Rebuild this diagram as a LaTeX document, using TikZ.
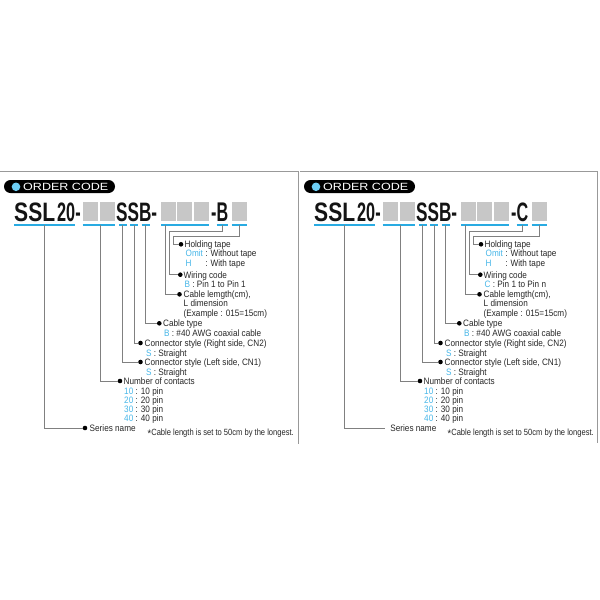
\documentclass[tikz,border=0pt]{standalone}
\usepackage{fontspec}
\setmainfont{Liberation Sans}
\usepackage{graphicx}

\definecolor{codeblue}{RGB}{41,171,226}
\definecolor{txtblue}{RGB}{70,182,232}
\definecolor{dotblue}{RGB}{109,207,246}

%% narrow text and stretched code letters
\newcommand{\cnd}[1]{\scalebox{0.88}[1]{#1}}
\newcommand{\bigcd}[2]{\resizebox{#1}{18.6pt}{#2}}
\newcommand{\hc}[1]{\textcolor{txtblue}{#1}}
\newcommand{\notestar}{{\fontsize{11}{11}\selectfont\raisebox{-2.6pt}{*}}}

\begin{document}
\begin{tikzpicture}[
    x=1pt, y=-1pt,
    lbl/.style={anchor=base west, inner sep=0pt, text=black!85,
        font=\fontsize{9.3}{9.3}\selectfont},
    note/.style={anchor=base west, inner sep=0pt, text=black!85,
        font=\fontsize{9}{9}\selectfont},
    %% black bullet in front of each item
    dot/.style={circle, fill=black, inner sep=0pt, minimum size=4.6pt},
    %% grey leader lines
    lead/.style={draw=black!50, line width=0.8pt},
    %% blue bar under each code part
    uline/.style={draw=codeblue, line width=2.6pt},
    slot/.style={fill=black!22},
    frame/.style={draw=black!40, line width=1pt},
    bigcode/.style={anchor=base west, inner sep=0pt, text=black!92,
        font=\bfseries},
    pill/.style={fill=black, rounded corners=6.5pt, inner sep=0pt,
        minimum width=111pt, minimum height=13pt},
    bluedot/.style={circle, fill=dotblue, inner sep=0pt, minimum size=8.6pt},
    pilltxt/.style={anchor=base west, inner sep=0pt, text=white}
]
\useasboundingbox (0,0) rectangle (600,600);

%% ================================================================
%% LEFT PANEL -- wiring code B
%% ================================================================
\begin{scope}[xshift=0pt]
    \draw[frame] (0,171.5) -- (298.5,171.5) -- (298.5,444);

    %% heading
    \node[pill] (ahd) at (59.5,186.5) {};
    \node[bluedot] (adot) at (16,186.8) {};
    \node[pilltxt] (atit) at (23,190.4) {\resizebox{85pt}{7.3pt}{ORDER CODE}};

    %% part number
    \node[bigcode] (as1) at (14,221.5)  {\bigcd{41pt}{SSL}};
    \node[bigcode] (as2) at (57,221.5)  {\bigcd{23.5pt}{20-}};
    \node[bigcode] (as3) at (116,221.5) {\bigcd{41pt}{SSB-}};
    \node[bigcode] (as4) at (211,221.5) {\bigcd{17pt}{-B}};
    \foreach \x in {82.7,99.8,161,177.2,193.8,231.8}
        \fill[slot] (\x,202.3) rectangle ++(15,19);
    \foreach \s/\e in {14/75, 82.7/115, 119.3/126.7, 130/138, 141.7/150,
                       161/209, 216.7/227.7, 231.7/246.7}
        \draw[uline] (\s,225) -- (\e,225);

    %% leader start points
    \coordinate (a1) at (44.3,225);
    \coordinate (a2) at (100,225);
    \coordinate (a3) at (122.3,225);
    \coordinate (a4) at (134,225);
    \coordinate (a5) at (145.7,225);
    \coordinate (a6) at (165.7,225);
    \coordinate (a7) at (222,225);
    \coordinate (a8) at (239.3,225);
    \coordinate (ak7) at (169.5,231.7);
    \coordinate (ak8) at (173.3,236);

    %% bullets
    \node[dot] (p1) at (85,428) {};
    \node[dot] (p2) at (120,381) {};
    \node[dot] (p3) at (140.5,362) {};
    \node[dot] (p4) at (140.5,343) {};
    \node[dot] (p5) at (159.3,323.3) {};
    \node[dot] (p6) at (179.5,294.3) {};
    \node[dot] (p7) at (180.3,274.7) {};
    \node[dot] (p8) at (181,244.3) {};

    \draw[lead] (a1) |- (p1);
    \draw[lead] (a2) |- (p2);
    \draw[lead] (a3) |- (p3);
    \draw[lead] (a4) |- (p4);
    \draw[lead] (a5) |- (p5);
    \draw[lead] (a6) |- (p6);
    \draw[lead] (a7) |- (ak7) |- (p7);
    \draw[lead] (a8) |- (ak8) |- (p8);

    %% item texts
    \node[lbl] (at8a) at (184.5,247.6) {\cnd{Holding tape}};
    \node[lbl] (at8b) at (185.5,256.9) {\cnd{\hc{Omit} : Without tape}};
    \node[lbl] (at8c) at (185.5,266.2) {\cnd{\rlap{\hc{H}}\phantom{Omit} : With tape}};
    \node[lbl] (at7a) at (183.5,278)   {\cnd{Wiring code}};
    \node[lbl] (at7b) at (184.5,287.3) {\cnd{\hc{B} : Pin 1 to Pin 1}};
    \node[lbl] (at6a) at (183.5,297.6) {\cnd{Cable lemgth(cm),}};
    \node[lbl] (at6b) at (183.5,306.9) {\cnd{L dimension}};
    \node[lbl] (at6c) at (183.5,316.2) {\cnd{(Example : 015=15cm)}};
    \node[lbl] (at5a) at (163,326.6)   {\cnd{Cable type}};
    \node[lbl] (at5b) at (164,336.3)   {\cnd{\hc{B} : \#40 AWG coaxial cable}};
    \node[lbl] (at4a) at (144.5,346.3) {\cnd{Connector style (Right side, CN2)}};
    \node[lbl] (at4b) at (146,356)     {\cnd{\hc{S} : Straight}};
    \node[lbl] (at3a) at (144.5,365.3) {\cnd{Connector style (Left side, CN1)}};
    \node[lbl] (at3b) at (146,375)     {\cnd{\hc{S} : Straight}};
    \node[lbl] (at2a) at (123.5,384.3) {\cnd{Number of contacts}};
    \node[lbl] (at2b) at (124,394)     {\cnd{\hc{10} : 10 pin}};
    \node[lbl] (at2c) at (124,403.3)   {\cnd{\hc{20} : 20 pin}};
    \node[lbl] (at2d) at (124,412.6)   {\cnd{\hc{30} : 30 pin}};
    \node[lbl] (at2e) at (124,421.9)   {\cnd{\hc{40} : 40 pin}};
    \node[lbl] (at1)  at (89.5,431.3)  {\cnd{Series name}};
    \node[note] (anote) at (147.5,435)
        {\scalebox{0.84}[1]{\notestar Cable length is set to 50cm by the longest.}};
\end{scope}

%% ================================================================
%% RIGHT PANEL -- wiring code C
%% ================================================================
\begin{scope}[xshift=300pt]
    \draw[frame] (0,171.5) -- (297.5,171.5) -- (297.5,443);

    %% heading
    \node[pill] (bhd) at (59.5,186.5) {};
    \node[bluedot] (bdot) at (16,186.8) {};
    \node[pilltxt] (btit) at (23,190.4) {\resizebox{85pt}{7.3pt}{ORDER CODE}};

    %% part number
    \node[bigcode] (bs1) at (14,221.5)  {\bigcd{41pt}{SSL}};
    \node[bigcode] (bs2) at (57,221.5)  {\bigcd{23.5pt}{20-}};
    \node[bigcode] (bs3) at (116,221.5) {\bigcd{41pt}{SSB-}};
    \node[bigcode] (bs4) at (211,221.5) {\bigcd{17pt}{-C}};
    \foreach \x in {82.7,99.8,161,177.2,193.8,231.8}
        \fill[slot] (\x,202.3) rectangle ++(15,19);
    \foreach \s/\e in {14/75, 82.7/115, 119.3/126.7, 130/138, 141.7/150,
                       161/209, 216.7/227.7, 231.7/246.7}
        \draw[uline] (\s,225) -- (\e,225);

    %% leader start points
    \coordinate (b1) at (44.3,225);
    \coordinate (b2) at (100,225);
    \coordinate (b3) at (122.3,225);
    \coordinate (b4) at (134,225);
    \coordinate (b5) at (145.7,225);
    \coordinate (b6) at (165.7,225);
    \coordinate (b7) at (222,225);
    \coordinate (b8) at (239.3,225);
    \coordinate (bk7) at (169.5,231.7);
    \coordinate (bk8) at (173.3,236);

    %% bullets (no bullet at series name here)
    \coordinate (q1) at (85,428);
    \node[dot] (q2) at (120,381) {};
    \node[dot] (q3) at (140.5,362) {};
    \node[dot] (q4) at (140.5,343) {};
    \node[dot] (q5) at (159.3,323.3) {};
    \node[dot] (q6) at (179.5,294.3) {};
    \node[dot] (q7) at (180.3,274.7) {};
    \node[dot] (q8) at (181,244.3) {};

    \draw[lead] (b1) |- (q1);
    \draw[lead] (b2) |- (q2);
    \draw[lead] (b3) |- (q3);
    \draw[lead] (b4) |- (q4);
    \draw[lead] (b5) |- (q5);
    \draw[lead] (b6) |- (q6);
    \draw[lead] (b7) |- (bk7) |- (q7);
    \draw[lead] (b8) |- (bk8) |- (q8);

    %% item texts
    \node[lbl] (bt8a) at (184.5,247.6) {\cnd{Holding tape}};
    \node[lbl] (bt8b) at (185.5,256.9) {\cnd{\hc{Omit} : Without tape}};
    \node[lbl] (bt8c) at (185.5,266.2) {\cnd{\rlap{\hc{H}}\phantom{Omit} : With tape}};
    \node[lbl] (bt7a) at (183.5,278)   {\cnd{Wiring code}};
    \node[lbl] (bt7b) at (184.5,287.3) {\cnd{\hc{C} : Pin 1 to Pin n}};
    \node[lbl] (bt6a) at (183.5,297.6) {\cnd{Cable lemgth(cm),}};
    \node[lbl] (bt6b) at (183.5,306.9) {\cnd{L dimension}};
    \node[lbl] (bt6c) at (183.5,316.2) {\cnd{(Example : 015=15cm)}};
    \node[lbl] (bt5a) at (163,326.6)   {\cnd{Cable type}};
    \node[lbl] (bt5b) at (164,336.3)   {\cnd{\hc{B} : \#40 AWG coaxial cable}};
    \node[lbl] (bt4a) at (144.5,346.3) {\cnd{Connector style (Right side, CN2)}};
    \node[lbl] (bt4b) at (146,356)     {\cnd{\hc{S} : Straight}};
    \node[lbl] (bt3a) at (144.5,365.3) {\cnd{Connector style (Left side, CN1)}};
    \node[lbl] (bt3b) at (146,375)     {\cnd{\hc{S} : Straight}};
    \node[lbl] (bt2a) at (123.5,384.3) {\cnd{Number of contacts}};
    \node[lbl] (bt2b) at (124,394)     {\cnd{\hc{10} : 10 pin}};
    \node[lbl] (bt2c) at (124,403.3)   {\cnd{\hc{20} : 20 pin}};
    \node[lbl] (bt2d) at (124,412.6)   {\cnd{\hc{30} : 30 pin}};
    \node[lbl] (bt2e) at (124,421.9)   {\cnd{\hc{40} : 40 pin}};
    \node[lbl] (bt1)  at (90.2,431.3)  {\cnd{Series name}};
    \node[note] (bnote) at (147.5,435)
        {\scalebox{0.84}[1]{\notestar Cable length is set to 50cm by the longest.}};
\end{scope}

\end{tikzpicture}
\end{document}
